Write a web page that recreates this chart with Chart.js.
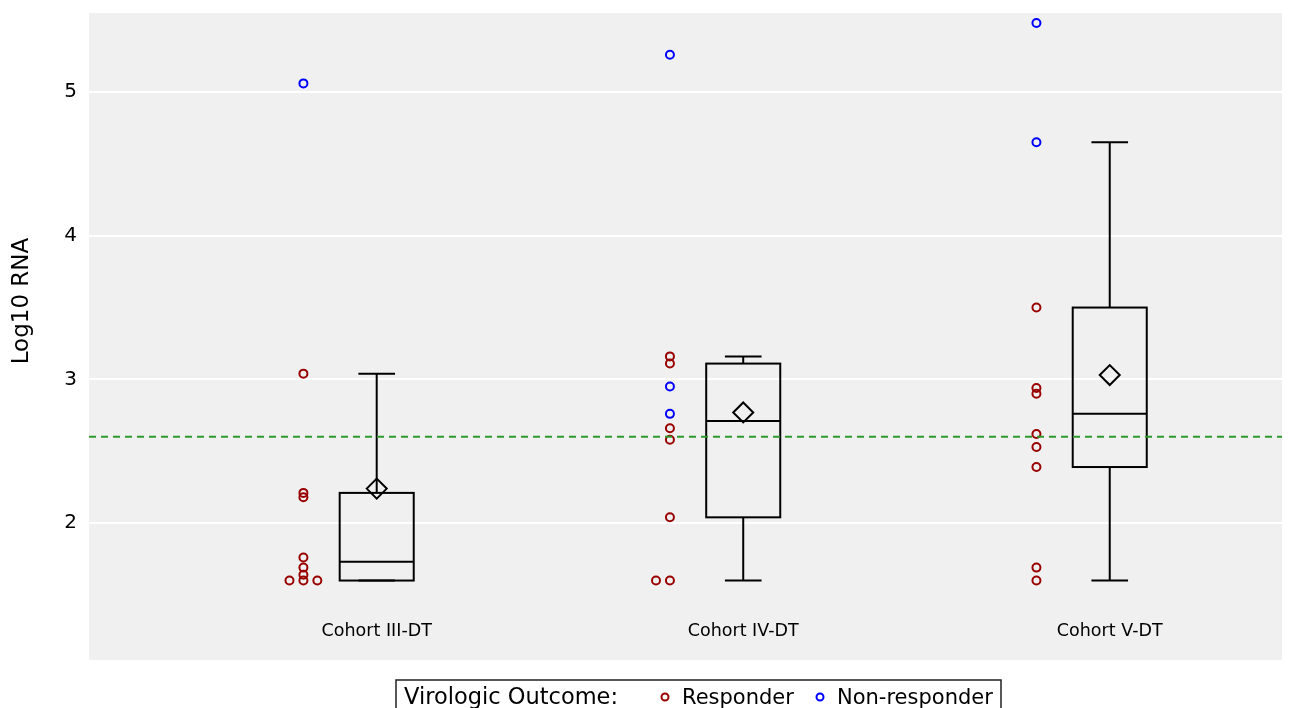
<!DOCTYPE html>
<html>
<head>
<meta charset="utf-8">
<script src="https://cdn.jsdelivr.net/npm/chart.js@4.4.1/dist/chart.umd.min.js"></script>
<style>
  html, body { margin: 0; padding: 0; background: #fff; }
  #wrap { width: 1295px; height: 708px; }
</style>
</head>
<body>
<div id="wrap"><canvas id="my-chart"></canvas></div>
<script>
const cohorts = ['Cohort III-DT', 'Cohort IV-DT', 'Cohort V-DT'];
const responder = [
  [1.60, 1.60, 1.60, 1.64, 1.69, 1.76, 2.18, 2.21, 3.04],
  [1.60, 1.60, 2.04, 2.58, 2.66, 3.11, 3.16],
  [1.60, 1.69, 2.39, 2.53, 2.62, 2.90, 2.94, 3.50]
];
const nonResponder = [
  [5.06],
  [2.76, 2.95, 5.26],
  [4.65, 5.48]
];
const q1 = [1.60, 2.04, 2.39];
const median = [1.73, 2.71, 2.76];
const q3 = [2.21, 3.11, 3.50];
const whiskerLow = [1.60, 1.60, 1.60];
const whiskerHigh = [3.04, 3.16, 4.65];
const means = [2.24, 2.77, 3.03];
const refLine = 2.6;
const yTicks = [2, 3, 4, 5];

const font = 'DejaVu Sans';
const xMin = 0.215, xMax = 3.47;
const pointShift = -0.2, jitter = 0.038;

// points sit left of the box; equal values get spread sideways
function pointsFor(lists) {
  const out = [];
  lists.forEach((vals, i) => {
    const seen = {};
    vals.forEach(v => {
      const k = seen[v] || 0;
      seen[v] = k + 1;
      const off = k === 0 ? 0 : (k % 2 ? -1 : 1) * Math.ceil(k / 2);
      out.push({ x: i + 1 + pointShift + off * jitter, y: v });
    });
  });
  return out;
}

const bgPlugin = {
  id: 'bg',
  beforeDraw(chart) {
    const { ctx, chartArea: a } = chart;
    ctx.save();
    ctx.fillStyle = '#f0f0f0';
    ctx.fillRect(a.left, a.top, a.right - a.left, a.bottom - a.top);
    ctx.restore();
  }
};

const boxPlugin = {
  id: 'boxes',
  beforeDatasetsDraw(chart) {
    const { ctx, scales: { x, y } } = chart;
    ctx.save();
    ctx.strokeStyle = '#000';
    ctx.lineWidth = 2;
    cohorts.forEach((c, i) => {
      const cx = x.getPixelForValue(i + 1);
      const l = x.getPixelForValue(i + 1 - 0.101), r = x.getPixelForValue(i + 1 + 0.101);
      const cl = x.getPixelForValue(i + 1 - 0.05), cr = x.getPixelForValue(i + 1 + 0.05);
      const yq1 = y.getPixelForValue(q1[i]), yq3 = y.getPixelForValue(q3[i]);
      const ym = y.getPixelForValue(median[i]);
      const ylo = y.getPixelForValue(whiskerLow[i]), yhi = y.getPixelForValue(whiskerHigh[i]);
      ctx.beginPath();
      ctx.moveTo(cx, yq3); ctx.lineTo(cx, yhi);
      ctx.moveTo(cl, yhi); ctx.lineTo(cr, yhi);
      ctx.moveTo(cx, yq1); ctx.lineTo(cx, ylo);
      ctx.moveTo(cl, ylo); ctx.lineTo(cr, ylo);
      ctx.moveTo(l, ym); ctx.lineTo(r, ym);
      ctx.stroke();
      ctx.strokeRect(l, yq3, r - l, yq1 - yq3);
    });
    ctx.restore();
  },
  afterDraw(chart) {
    const { ctx, scales: { x } } = chart;
    ctx.save();
    ctx.fillStyle = '#000';

    // y axis title
    ctx.save();
    ctx.translate(22, 301);
    ctx.rotate(-Math.PI / 2);
    ctx.font = '23px "' + font + '"';
    ctx.textAlign = 'center';
    ctx.textBaseline = 'middle';
    ctx.fillText('Log10 RNA', 0, 0);
    ctx.restore();

    ctx.font = '17.5px "' + font + '"';
    ctx.textAlign = 'center';
    ctx.textBaseline = 'middle';
    cohorts.forEach((c, i) => ctx.fillText(c, x.getPixelForValue(i + 1), 631));

    // legend box
    ctx.strokeStyle = '#222';
    ctx.lineWidth = 1.5;
    ctx.strokeRect(396, 680, 605, 40);
    ctx.font = '22.5px "' + font + '"';
    ctx.textAlign = 'left';
    ctx.textBaseline = 'alphabetic';
    ctx.fillText('Virologic Outcome:', 404, 704);
    ctx.font = '21px "' + font + '"';
    const items = [['Responder', '#990000', 665], ['Non-responder', '#0000ff', 820]];
    items.forEach(([t, col, mx]) => {
      ctx.beginPath();
      ctx.lineWidth = 2;
      ctx.strokeStyle = col;
      ctx.arc(mx, 697, 3.5, 0, Math.PI * 2);
      ctx.stroke();
      ctx.fillText(t, mx + 17, 704);
    });
    ctx.restore();
  }
};

const ctx = document.querySelector('#my-chart');
new Chart(ctx, {
  type: 'scatter',
  data: {
    datasets: [
      {
        label: 'Reference',
        type: 'line',
        data: [{ x: xMin, y: refLine }, { x: xMax, y: refLine }],
        borderColor: '#2e9a2e',
        borderWidth: 2,
        borderDash: [7, 5],
        pointRadius: 0
      },
      {
        label: 'Mean',
        data: means.map((m, i) => ({ x: i + 1, y: m })),
        pointStyle: 'rectRot',
        pointRadius: 10,
        borderColor: '#000',
        borderWidth: 2,
        backgroundColor: 'rgba(0,0,0,0)'
      },
      {
        label: 'Responder',
        data: pointsFor(responder),
        pointRadius: 4,
        borderColor: '#990000',
        borderWidth: 2,
        backgroundColor: 'rgba(0,0,0,0)'
      },
      {
        label: 'Non-responder',
        data: pointsFor(nonResponder),
        pointRadius: 4,
        borderColor: '#0000ff',
        borderWidth: 2,
        backgroundColor: 'rgba(0,0,0,0)'
      }
    ]
  },
  options: {
    responsive: true,
    maintainAspectRatio: false,
    animation: false,
    layout: { padding: { left: 0, top: 13, right: 13, bottom: 48 } },
    plugins: {
      legend: { display: false },
      tooltip: { enabled: false }
    },
    scales: {
      x: { type: 'linear', min: xMin, max: xMax, display: false },
      y: {
        min: 1.047,
        max: 5.55,
        afterBuildTicks: s => { s.ticks = yTicks.map(v => ({ value: v })); },
        afterFit: s => { s.width = 89; s.paddingTop = 0; s.paddingBottom = 0; },
        border: { display: false },
        grid: { color: '#ffffff', lineWidth: 2, drawTicks: false },
        ticks: { padding: 12, color: '#000', font: { family: font, size: 20 } }
      }
    }
  },
  plugins: [bgPlugin, boxPlugin]
});
</script>
</body>
</html>
